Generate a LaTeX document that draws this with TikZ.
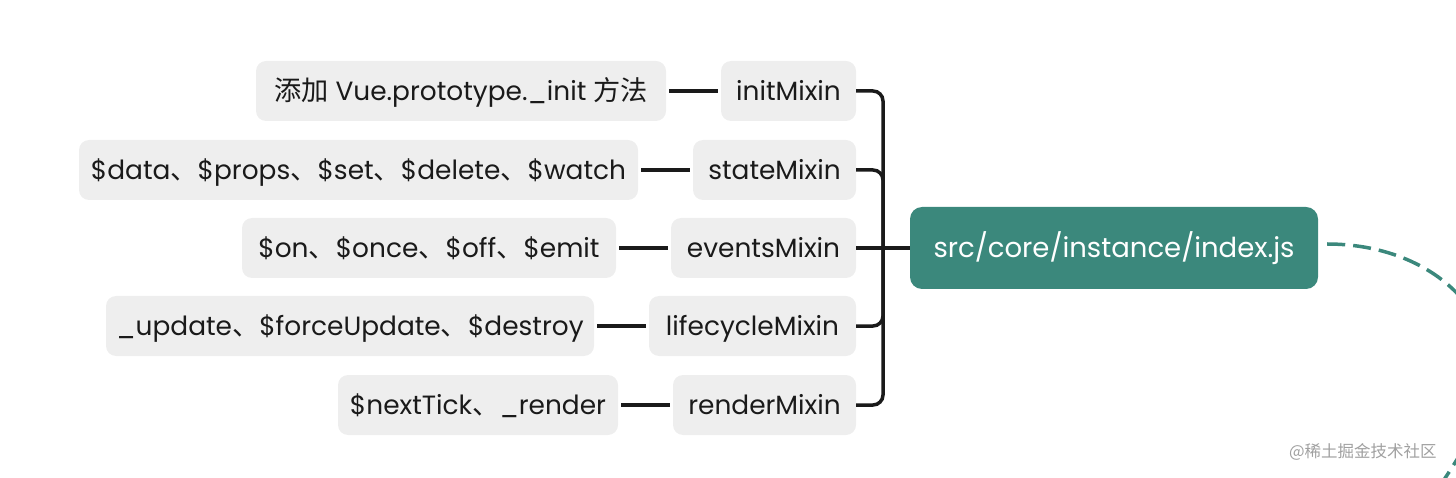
\documentclass[tikz,border=0pt]{standalone}
\usepackage{fontspec}
\setmainfont{Poppins}
\newfontfamily\cjk[Scale=1.03]{Noto Sans CJK SC}
\usetikzlibrary{calc}
\definecolor{boxgray}{HTML}{EEEEEE}
\definecolor{hubteal}{HTML}{3B887C}
\definecolor{ink}{HTML}{1A1A1A}
\definecolor{wmgray}{HTML}{A0A0A0}
\begin{document}
\begin{tikzpicture}[x=1pt,y=-1pt,
  graybox/.style={fill=boxgray, rounded corners=10pt, minimum height=60pt, inner sep=0pt, text=ink, text height=22pt, text depth=3pt, font=\fontsize{26.4}{30}\selectfont},
  hubbox/.style={fill=hubteal, rounded corners=12pt, minimum height=82pt, minimum width=408pt, inner sep=0pt, text=white, text height=22pt, text depth=3pt, font=\fontsize{27.5}{30}\selectfont},
  conn/.style={draw=ink, line width=3.5pt},
  dashconn/.style={draw=hubteal, line width=3.5pt, dash pattern=on 18pt off 8pt}
]
\useasboundingbox (0,0) rectangle (1456,478);

\node[hubbox] (hub) at (1114,248) {src/core/instance/index.js};

\node[graybox, minimum width=135pt] (m1) at (788.5,91) {initMixin};
\node[graybox, minimum width=163pt] (m2) at (774.5,170) {stateMixin};
\node[graybox, minimum width=185pt] (m3) at (763.5,248) {eventsMixin};
\node[graybox, minimum width=207pt] (m4) at (752.5,326) {lifecycleMixin};
\node[graybox, minimum width=183pt] (m5) at (764.5,405) {renderMixin};

\node[graybox, minimum width=410pt] (l1) at (461,91) {{\cjk 添加} Vue.prototype.\_init {\cjk 方法}};
\node[graybox, minimum width=559pt] (l2) at (358.5,170) {\$data{\cjk 、}\$props{\cjk 、}\$set{\cjk 、}\$delete{\cjk 、}\$watch};
\node[graybox, minimum width=374pt] (l3) at (429,248) {\$on{\cjk 、}\$once{\cjk 、}\$off{\cjk 、}\$emit};
\node[graybox, minimum width=488pt] (l4) at (350,326) {\_update{\cjk 、}\$forceUpdate{\cjk 、}\$destroy};
\node[graybox, minimum width=280pt] (l5) at (478,405) {\$nextTick{\cjk 、}\_render};

\draw[conn] ([xshift=3pt]l1.east) -- ([xshift=-3pt]m1.west);
\draw[conn] ([xshift=3pt]l2.east) -- ([xshift=-3pt]m2.west);
\draw[conn] ([xshift=3pt]l3.east) -- ([xshift=-3pt]m3.west);
\draw[conn] ([xshift=3pt]l4.east) -- ([xshift=-3pt]m4.west);
\draw[conn] ([xshift=3pt]l5.east) -- ([xshift=-3pt]m5.west);

\coordinate (bx) at (883,0);
\draw[conn, rounded corners=10pt] (m1.east) -| (bx |- m5.east) -- (m5.east);
\draw[conn, rounded corners=10pt] (m2.east) -| (bx |- m3.east);
\draw[conn, rounded corners=10pt] (m4.east) -| (bx |- m3.east);
\draw[conn] (m3.east) -- (hub.west);

\coordinate (dend) at (1436,492);
\begin{scope}
\clip (0,0) rectangle (1456,478);
\draw[dashconn] ($(hub.east)+(9,-4)$) .. controls (1420,244) and (1490,300) .. (1488,370) .. controls (1486,420) and (1460,455) .. (dend);
\end{scope}

\node[text=wmgray, font=\cjk\fontsize{16}{18}\selectfont, anchor=east] (wm) at (1440,452) {@稀土掘金技术社区};
\end{tikzpicture}
\end{document}
